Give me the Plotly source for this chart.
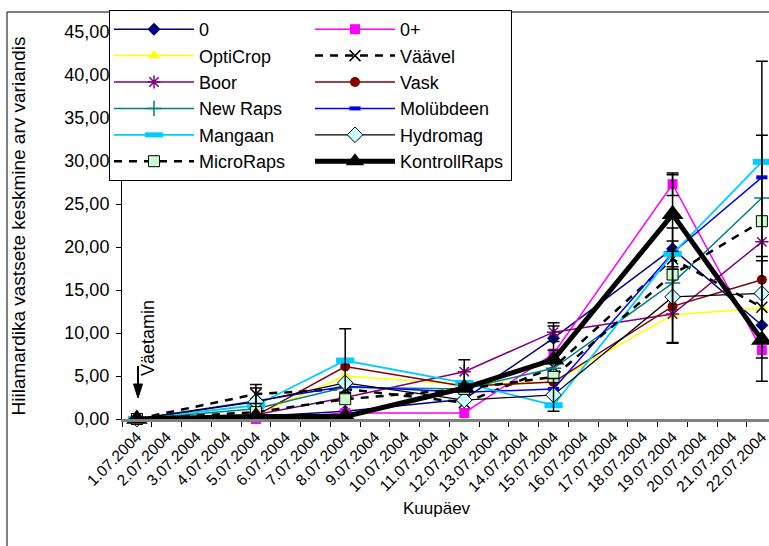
import plotly.graph_objects as go

# Category axis: every day of the observation period
dates = [
    "1.07.2004", "2.07.2004", "3.07.2004", "4.07.2004", "5.07.2004",
    "6.07.2004", "7.07.2004", "8.07.2004", "9.07.2004", "10.07.2004",
    "11.07.2004", "12.07.2004", "13.07.2004", "14.07.2004", "15.07.2004",
    "16.07.2004", "17.07.2004", "18.07.2004", "19.07.2004", "20.07.2004",
    "21.07.2004", "22.07.2004",
]

# Counting days
sample_dates = ["1.07.2004", "5.07.2004", "8.07.2004", "12.07.2004",
                "15.07.2004", "19.07.2004", "22.07.2004"]

# Mean number of larvae per variant
v_0 = [0.0, 0.3, 0.9, 2.3, 9.4, 19.8, 10.9]
v_0plus = [0.0, 0.0, 0.7, 0.7, 7.6, 27.3, 8.0]
v_opticrop = [0.0, 0.5, 5.0, 4.0, 4.3, 12.1, 12.9]
v_vaavel = [0.0, 2.9, 3.5, 1.9, 6.0, 18.6, 13.0]
v_boor = [0.0, 0.5, 2.5, 5.5, 10.1, 12.2, 20.6]
v_vask = [0.0, 0.4, 6.1, 3.8, 4.3, 13.1, 16.2]
v_newraps = [0.0, 1.2, 3.7, 3.5, 5.9, 15.8, 25.7]
v_molybdeen = [0.0, 2.1, 3.8, 3.1, 3.5, 19.3, 28.1]
v_mangaan = [0.0, 1.6, 6.8, 4.2, 1.6, 19.2, 29.9]
v_hydromag = [0.0, 2.0, 4.2, 2.2, 2.8, 14.2, 14.6]
v_microraps = [0.0, 0.8, 2.3, 3.5, 4.9, 16.8, 23.0]
v_kontroll = [0.0, 0.3, 0.3, 3.6, 6.9, 23.8, 9.2]

# Error bar half-widths (None = no error bar drawn)
e_0 = [None, None, None, None, 1.4, 2.4, None]
e_0plus = [None, None, None, None, None, 1.3, None]
e_vaavel = [None, 1.1, None, None, None, 9.8, 5.9]
e_boor = [None, None, None, 1.4, 1.1, None, None]
e_newraps = [None, None, None, None, None, None, 7.3]
e_mangaan = [None, None, 3.7, None, None, 1.5, None]
e_hydromag = [None, 1.6, None, None, 1.9, 5.3, None]
e_microraps = [None, None, None, None, None, None, 18.6]

FONT = "Arial, Liberation Sans, sans-serif"

series = [
    # name, values, errors, legend column, line, marker
    ("0", v_0, e_0, "a",
     dict(color="#000080", width=1.5),
     dict(symbol="diamond", size=10, color="#000080")),
    ("0+", v_0plus, e_0plus, "b",
     dict(color="#FF00FF", width=1.5),
     dict(symbol="square", size=10, color="#FF00FF")),
    ("OptiCrop", v_opticrop, None, "a",
     dict(color="#FFFF00", width=1.5),
     dict(symbol="triangle-up", size=11, color="#FFFF00")),
    ("Väävel", v_vaavel, e_vaavel, "b",
     dict(color="#000000", width=2.5, dash="8px,7px"),
     dict(symbol="x-thin-open", size=11, color="#000000",
          line=dict(color="#000000", width=1.5))),
    ("Boor", v_boor, e_boor, "a",
     dict(color="#800080", width=1.5),
     dict(symbol="asterisk-open", size=11, color="#800080",
          line=dict(color="#800080", width=1.5))),
    ("Vask", v_vask, None, "b",
     dict(color="#800000", width=1.5),
     dict(symbol="circle", size=10, color="#800000")),
    ("New Raps", v_newraps, e_newraps, "a",
     dict(color="#008080", width=1.5),
     dict(symbol="cross-thin-open", size=11, color="#008080",
          line=dict(color="#008080", width=1.5))),
    ("Molübdeen", v_molybdeen, None, "b",
     dict(color="#0000FF", width=1.5),
     dict(symbol="line-ew-open", size=8, color="#0000FF",
          line=dict(color="#0000FF", width=4))),
    ("Mangaan", v_mangaan, e_mangaan, "a",
     dict(color="#00CCFF", width=1.8),
     dict(symbol="line-ew-open", size=13, color="#00CCFF",
          line=dict(color="#00CCFF", width=6))),
    ("Hydromag", v_hydromag, e_hydromag, "b",
     dict(color="#000000", width=1.3),
     dict(symbol="diamond", size=12, color="#CCFFFF",
          line=dict(color="#000000", width=1))),
    ("MicroRaps", v_microraps, e_microraps, "a",
     dict(color="#000000", width=2.5, dash="8px,7px"),
     dict(symbol="square", size=11, color="#CCFFCC",
          line=dict(color="#000000", width=1))),
    ("KontrollRaps", v_kontroll, None, "b",
     dict(color="#000000", width=5),
     dict(symbol="triangle-up", size=19, color="#000000")),
]

fig = go.Figure()

for name, vals, errs, col, line, marker in series:
    fig.add_trace(go.Scatter(
        x=sample_dates, y=vals, name=name, mode="lines+markers",
        line=line, marker=marker, legendgroup=col, cliponaxis=False,
    ))

# Black error bars, drawn over the series lines
for name, vals, errs, col, line, marker in series:
    if errs is None:
        continue
    xs = [d for d, e in zip(sample_dates, errs) if e is not None]
    ys = [v for v, e in zip(vals, errs) if e is not None]
    es = [e for e in errs if e is not None]
    fig.add_trace(go.Scatter(
        x=xs, y=ys, mode="markers", showlegend=False, hoverinfo="skip",
        marker=dict(size=2, opacity=0), cliponaxis=False,
        error_y=dict(type="data", array=es, color="#000000",
                     thickness=1.5, width=6),
    ))

W, H = 769, 546
L, T, B = 122, 32, 127
PW, PH = W - L, H - T - B


def px_x(p):
    return (p - L) / PW


def px_y(p):
    return (H - B - p) / PH


fig.update_layout(
    width=W, height=H,
    margin=dict(l=L, r=0, t=T, b=B, autoexpand=False),
    paper_bgcolor="white", plot_bgcolor="white",
    separators=", ",
    font=dict(family=FONT, size=18, color="#000000"),
    showlegend=True,
    legend=dict(
        orientation="h", traceorder="grouped", tracegroupgap=0,
        x=px_x(512), xanchor="right", y=px_y(10), yanchor="top",
        itemwidth=80, entrywidth=106,
        bgcolor="white", bordercolor="#000000", borderwidth=1,
        font=dict(family=FONT, size=18, color="#000000"),
    ),
    xaxis=dict(
        type="category", categoryorder="array", categoryarray=dates,
        range=[-0.5, 21.24], tickson="boundaries",
        ticks="outside", ticklen=5, tickcolor="#000000", tickwidth=1,
        tickangle=-45, tickfont=dict(family=FONT, size=15.5),
        showline=True, linecolor="#808080", linewidth=2.5,
        showgrid=False, zeroline=False, automargin=False,
    ),
    yaxis=dict(
        range=[0, 45], dtick=5, tick0=0, tickformat=".2f",
        ticks="outside", ticklen=5, tickcolor="#000000", tickwidth=1,
        tickfont=dict(family=FONT, size=18), ticklabelstandoff=3,
        showline=True, linecolor="#000000", linewidth=1,
        showgrid=False, zeroline=False, automargin=False,
    ),
)

# Axis titles
fig.add_annotation(
    text="Hiilamardika vastsete keskmine arv variandis",
    xref="paper", yref="paper", x=px_x(18), y=px_y(418),
    xanchor="center", yanchor="bottom", textangle=-90, showarrow=False,
    font=dict(family=FONT, size=19),
)
fig.add_annotation(
    text="Kuupäev", xref="paper", yref="paper", x=px_x(437), y=px_y(508),
    xanchor="center", yanchor="middle", showarrow=False,
    font=dict(family=FONT, size=17),
)

# Fertiliser application marker: label and downward arrow
fig.add_annotation(
    text="Väetamin", xref="paper", yref="paper", x=px_x(148), y=px_y(378),
    xanchor="center", yanchor="bottom", textangle=-90, showarrow=False,
    font=dict(family=FONT, size=18),
)
ARROW_X, ARROW_TOP, ARROW_NECK, ARROW_TIP, HEAD_HALF = 138, 366, 384, 398, 4.5
fig.add_shape(type="line", xref="paper", yref="paper",
              x0=px_x(ARROW_X), x1=px_x(ARROW_X),
              y0=px_y(ARROW_TOP), y1=px_y(ARROW_NECK + 1),
              line=dict(color="#000000", width=2))
fig.add_shape(
    type="path", xref="paper", yref="paper",
    path=(f"M {px_x(ARROW_X - HEAD_HALF)},{px_y(ARROW_NECK)} "
          f"L {px_x(ARROW_X + HEAD_HALF)},{px_y(ARROW_NECK)} "
          f"L {px_x(ARROW_X)},{px_y(ARROW_TIP)} Z"),
    fillcolor="#000000", line=dict(color="#000000", width=1),
)

# Chart area frame
fig.add_shape(type="line", xref="paper", yref="paper",
              x0=px_x(7), x1=px_x(W), y0=px_y(12), y1=px_y(12),
              line=dict(color="#000000", width=1))
fig.add_shape(type="line", xref="paper", yref="paper",
              x0=px_x(7), x1=px_x(7), y0=px_y(12), y1=px_y(H),
              line=dict(color="#000000", width=1))

fig.write_html("out.html")
